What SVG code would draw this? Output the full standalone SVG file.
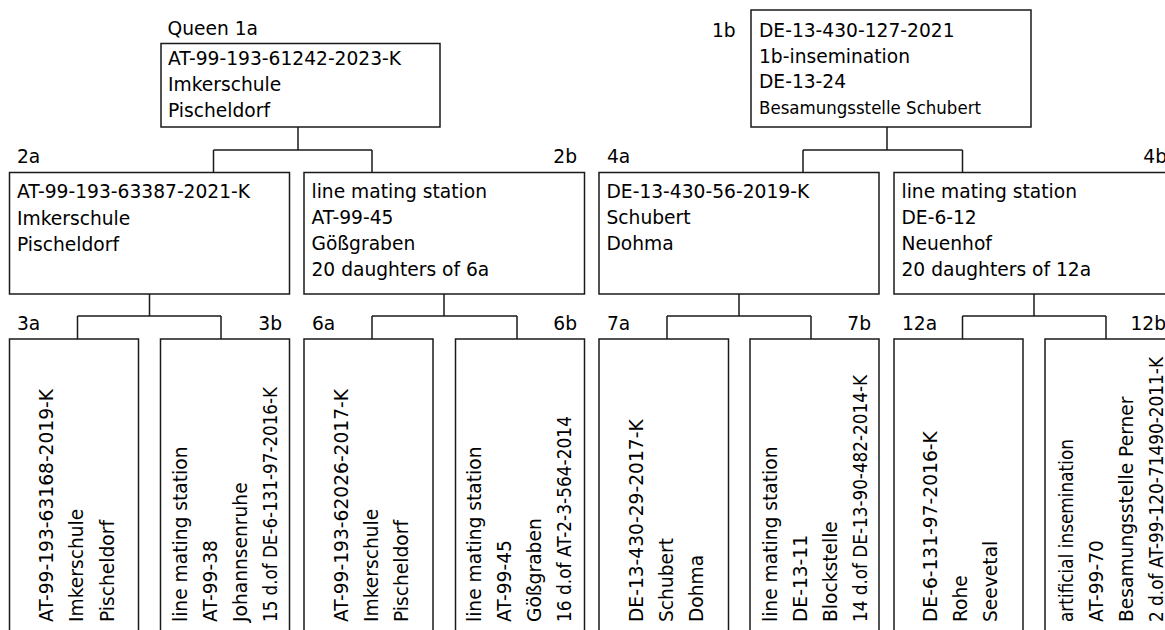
<svg xmlns="http://www.w3.org/2000/svg" width="1165" height="630" viewBox="0 0 1165 630">
<style>
  text { font-family: "DejaVu Sans", "Liberation Sans", sans-serif; font-size: 18.67px; fill: #000; }
  .end { text-anchor: end; }
  rect { fill: #fff; stroke: #1a1a1a; stroke-width: 1.5; }
  .conn path { fill: none; stroke: #1a1a1a; stroke-width: 1.5; }
</style>
<rect x="0" y="0" width="1165" height="630" style="stroke:none;fill:#fff"/>

<g class="conn" id="connectors">
  <path d="M298,127 V150 M213.5,150 H372 M213.5,150 V172.5 M372,150 V172.5"/>
  <path d="M887,127 V150 M803,150 H962.5 M803,150 V172.5 M962.5,150 V172.5"/>
  <path d="M149.5,294 V316 M77.5,316 H221 M77.5,316 V339 M221,316 V339"/>
  <path d="M444,294 V316 M372,316 H517 M372,316 V339 M517,316 V339"/>
  <path d="M739,294 V316 M667,316 H811 M667,316 V339 M811,316 V339"/>
  <path d="M1034,294 V316 M962.5,316 H1106 M962.5,316 V339 M1106,316 V339"/>
</g>

<g id="n1a">
  <text x="167.5" y="35">Queen 1a</text>
  <rect x="161" y="43.5" width="279" height="83.5"/>
  <text x="168" y="64.5">AT-99-193-61242-2023-K</text>
  <text x="168" y="90.5">Imkerschule</text>
  <text x="168" y="116.5">Pischeldorf</text>
</g>

<g id="n1b">
  <text x="712" y="36.7">1b</text>
  <rect x="751" y="10" width="280" height="117"/>
  <text x="759" y="36.7">DE-13-430-127-2021</text>
  <text x="759" y="62.5">1b-insemination</text>
  <text x="759" y="88.3">DE-13-24</text>
  <text x="759" y="114" style="font-size:17px" textLength="222" lengthAdjust="spacingAndGlyphs">Besamungsstelle Schubert</text>
</g>

<g id="n2a">
  <text x="17" y="163">2a</text>
  <rect x="9.5" y="172.5" width="280" height="121.5"/>
  <text x="17" y="197.7">AT-99-193-63387-2021-K</text>
  <text x="17" y="224.5">Imkerschule</text>
  <text x="17" y="250.5">Pischeldorf</text>
</g>

<g id="n2b">
  <text class="end" x="577" y="163">2b</text>
  <rect x="304" y="172.5" width="280.5" height="121.5"/>
  <text x="311.5" y="197.7">line mating station</text>
  <text x="311.5" y="224">AT-99-45</text>
  <text x="311.5" y="250">Gößgraben</text>
  <text x="311.5" y="276">20 daughters of 6a</text>
</g>

<g id="n4a">
  <text x="607" y="163">4a</text>
  <rect x="599" y="172.5" width="280" height="121.5"/>
  <text x="606.5" y="197.7">DE-13-430-56-2019-K</text>
  <text x="606.5" y="224">Schubert</text>
  <text x="606.5" y="250">Dohma</text>
</g>

<g id="n4b">
  <text class="end" x="1167" y="163">4b</text>
  <rect x="894" y="172.5" width="280" height="121.5"/>
  <text x="901.5" y="197.7">line mating station</text>
  <text x="901.5" y="224">DE-6-12</text>
  <text x="901.5" y="250">Neuenhof</text>
  <text x="901.5" y="276">20 daughters of 12a</text>
</g>

<g id="n3a">
  <text x="17" y="330">3a</text>
  <rect x="9.5" y="339" width="129" height="320"/>
  <text transform="translate(53,622) rotate(-90)">AT-99-193-63168-2019-K</text>
  <text transform="translate(83,622) rotate(-90)">Imkerschule</text>
  <text transform="translate(113.5,622) rotate(-90)">Pischeldorf</text>
</g>

<g id="n3b">
  <text class="end" x="282" y="330">3b</text>
  <rect x="160.5" y="339" width="129" height="320"/>
  <text transform="translate(187,622) rotate(-90)">line mating station</text>
  <text transform="translate(217,622) rotate(-90)">AT-99-38</text>
  <text transform="translate(247,622) rotate(-90)">Johannsenruhe</text>
  <text transform="translate(277,622) rotate(-90)" textLength="235" lengthAdjust="spacingAndGlyphs">15 d.of DE-6-131-97-2016-K</text>
</g>

<g id="n6a">
  <text x="312" y="330">6a</text>
  <rect x="304" y="339" width="129" height="320"/>
  <text transform="translate(348,622) rotate(-90)">AT-99-193-62026-2017-K</text>
  <text transform="translate(378,622) rotate(-90)">Imkerschule</text>
  <text transform="translate(408,622) rotate(-90)">Pischeldorf</text>
</g>

<g id="n6b">
  <text class="end" x="577" y="330">6b</text>
  <rect x="455.5" y="339" width="129" height="320"/>
  <text transform="translate(480.5,622) rotate(-90)">line mating station</text>
  <text transform="translate(510.5,622) rotate(-90)">AT-99-45</text>
  <text transform="translate(540.5,622) rotate(-90)">Gößgraben</text>
  <text transform="translate(570.5,622) rotate(-90)" textLength="206" lengthAdjust="spacingAndGlyphs">16 d.of AT-2-3-564-2014</text>
</g>

<g id="n7a">
  <text x="607" y="330">7a</text>
  <rect x="599" y="339" width="129.5" height="320"/>
  <text transform="translate(643,622) rotate(-90)">DE-13-430-29-2017-K</text>
  <text transform="translate(673,622) rotate(-90)">Schubert</text>
  <text transform="translate(703,622) rotate(-90)">Dohma</text>
</g>

<g id="n7b">
  <text class="end" x="871" y="330">7b</text>
  <rect x="750" y="339" width="129" height="320"/>
  <text transform="translate(777,622) rotate(-90)">line mating station</text>
  <text transform="translate(807,622) rotate(-90)">DE-13-11</text>
  <text transform="translate(837,622) rotate(-90)">Blockstelle</text>
  <text transform="translate(867,622) rotate(-90)" textLength="247" lengthAdjust="spacingAndGlyphs">14 d.of DE-13-90-482-2014-K</text>
</g>

<g id="n12a">
  <text x="902" y="330">12a</text>
  <rect x="894" y="339" width="129" height="320"/>
  <text transform="translate(937,622) rotate(-90)">DE-6-131-97-2016-K</text>
  <text transform="translate(967,622) rotate(-90)">Rohe</text>
  <text transform="translate(997,622) rotate(-90)">Seevetal</text>
</g>

<g id="n12b">
  <text class="end" x="1166" y="330">12b</text>
  <rect x="1045" y="339" width="129" height="320"/>
  <text transform="translate(1073,622) rotate(-90)" textLength="183" lengthAdjust="spacingAndGlyphs">artificial insemination</text>
  <text transform="translate(1103,622) rotate(-90)">AT-99-70</text>
  <text transform="translate(1133,622) rotate(-90)">Besamungsstelle Perner</text>
  <text transform="translate(1163,622) rotate(-90)" textLength="265" lengthAdjust="spacingAndGlyphs">2 d.of AT-99-120-71490-2011-K</text>
</g>
</svg>
